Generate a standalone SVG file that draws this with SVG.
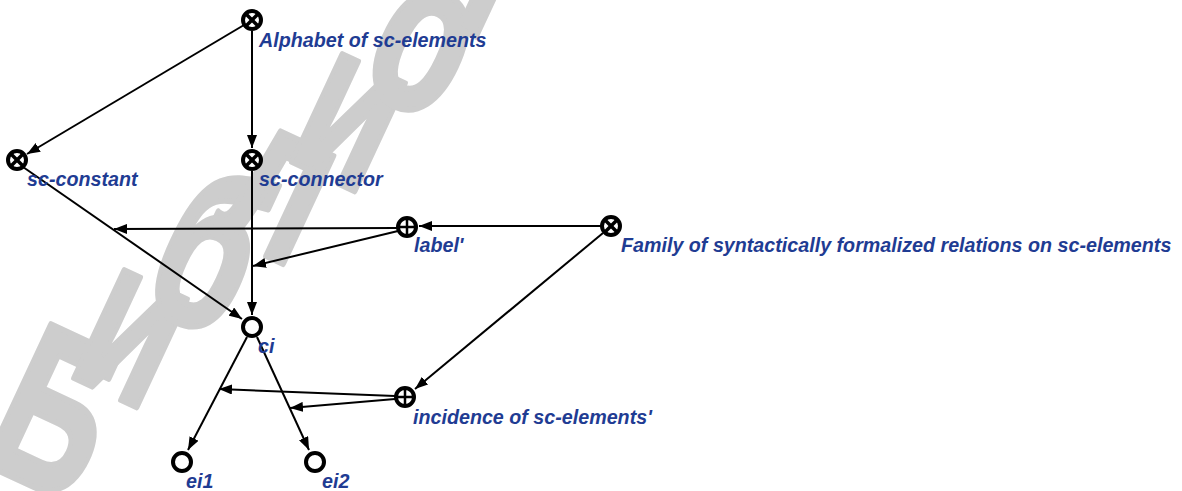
<svg xmlns="http://www.w3.org/2000/svg" width="1182" height="491" viewBox="0 0 1182 491">
<style>
.wm{font-family:"Liberation Sans",Arial,sans-serif;font-weight:bold;font-size:225px;fill:#cdcdcd;stroke:#cdcdcd;stroke-width:6;stroke-linejoin:round;text-anchor:middle}
.lbl{font-family:"Liberation Sans",Arial,sans-serif;font-weight:bold;font-style:italic;font-size:19.7px;fill:#1f3c93}
.edge{stroke:#000;stroke-width:2;fill:none;marker-end:url(#ah)}
.ring{fill:#fff;stroke:#000;stroke-width:4}
.xl{stroke:#000;stroke-width:3.5}
.pl{stroke:#000;stroke-width:2.5}
</style>
<defs>
<marker id="ah" markerWidth="13" markerHeight="10" refX="13" refY="5" orient="auto" markerUnits="userSpaceOnUse">
<path d="M0,0 L13,5 L0,10 z" fill="#000"/>
</marker>
<g id="nx">
<circle r="9" class="ring"/>
<line x1="-6" y1="-6" x2="6" y2="6" class="xl"/>
<line x1="-6" y1="6" x2="6" y2="-6" class="xl"/>
</g>
<g id="np">
<circle r="9" class="ring"/>
<line x1="0" y1="-8" x2="0" y2="8" class="pl"/>
<line x1="-8" y1="0" x2="8" y2="0" class="pl"/>
</g>
</defs>
<rect width="1182" height="491" fill="#fff"/>
<g id="watermark">
<text class="wm" transform="translate(58,410) rotate(25) scale(0.66,1)" y="80">Б</text>
<text class="wm" transform="translate(130,340) rotate(25) scale(0.66,1)" y="58">и</text>
<text class="wm" transform="translate(202,268) rotate(25) scale(0.66,1)" y="58">б</text>
<text class="wm" transform="translate(275,196) rotate(25) scale(0.66,1)" y="58">л</text>
<text class="wm" transform="translate(348,124) rotate(25) scale(0.66,1)" y="58">и</text>
<text class="wm" transform="translate(420,52) rotate(25) scale(0.66,1)" y="58">о</text>
<text class="wm" transform="translate(492,-20) rotate(25) scale(0.66,1)" y="58">т</text>
</g>
<g id="connectors">
<line class="edge" x1="244" y1="25" x2="27" y2="154"/>
<line class="edge" x1="252" y1="31" x2="252" y2="148"/>
<line class="edge" x1="23" y1="167" x2="242" y2="319"/>
<line class="edge" x1="252" y1="171" x2="252" y2="315"/>
<line class="edge" x1="397" y1="228" x2="114" y2="229"/>
<line class="edge" x1="398" y1="231" x2="253" y2="266"/>
<line class="edge" x1="601" y1="226" x2="419" y2="226"/>
<line class="edge" x1="603" y1="233" x2="415" y2="389"/>
<line class="edge" x1="247" y1="337" x2="188" y2="450"/>
<line class="edge" x1="257" y1="337" x2="309" y2="450"/>
<line class="edge" x1="395" y1="396" x2="219" y2="389"/>
<line class="edge" x1="395" y1="399" x2="290" y2="408"/>
</g>
<g id="n-alphabet"><use href="#nx" x="252" y="20"/><text class="lbl" x="259" y="47">Alphabet of sc-elements</text></g>
<g id="n-sc-constant"><use href="#nx" x="17" y="160"/><text class="lbl" x="27" y="186">sc-constant</text></g>
<g id="n-sc-connector"><use href="#nx" x="252" y="160"/><text class="lbl" x="259" y="186">sc-connector</text></g>
<g id="n-label"><use href="#np" x="407" y="227"/><text class="lbl" x="414" y="252">label'</text></g>
<g id="n-family"><use href="#nx" x="611" y="226"/><text class="lbl" x="621" y="252">Family of syntactically formalized relations on sc-elements</text></g>
<g id="n-ci"><circle class="ring" cx="252" cy="327" r="9"/><text class="lbl" x="258" y="353">ci</text></g>
<g id="n-incidence"><use href="#np" x="405" y="397"/><text class="lbl" x="413" y="424">incidence of sc-elements'</text></g>
<g id="n-ei1"><circle class="ring" cx="182" cy="462" r="9"/><text class="lbl" x="186" y="488">ei1</text></g>
<g id="n-ei2"><circle class="ring" cx="315" cy="462" r="9"/><text class="lbl" x="322" y="488">ei2</text></g>
</svg>
